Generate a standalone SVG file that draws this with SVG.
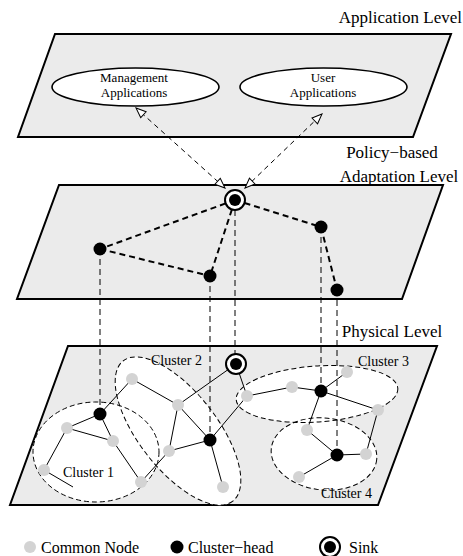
<svg xmlns="http://www.w3.org/2000/svg" width="463" height="556" viewBox="0 0 463 556">
<defs>
<style>
.plane{fill:#ebebeb;stroke:#000;stroke-width:2;stroke-linejoin:miter}
text{font-family:'Liberation Serif','Times New Roman',Times,serif;fill:#000}
.lvl{font-size:17px}
.t13{font-size:13px;text-anchor:middle}
.cl{font-size:14px}
.leg{font-size:16px}
.app{fill:#fff;stroke:#000;stroke-width:1.6}
.cfill{fill:#fff;stroke:none}
.cstroke{fill:none;stroke:#000;stroke-width:1;stroke-dasharray:5 3}
.thick{stroke:#000;stroke-width:2;stroke-dasharray:6 4;fill:none}
.vert{stroke:#000;stroke-width:1;stroke-dasharray:6 4;fill:none}
.edge{stroke:#000;stroke-width:1;fill:none}
.arr{stroke:#000;stroke-width:1;stroke-dasharray:5 4;fill:none;marker-start:url(#open);marker-end:url(#open)}
.g{fill:#d3d3d3}
.h{fill:#000}
.sinkring{fill:#fff;stroke:#000;stroke-width:2}
</style>
<marker id="open" viewBox="0 0 12 10" refX="11" refY="5" markerWidth="12" markerHeight="10" markerUnits="userSpaceOnUse" orient="auto-start-reverse">
<path d="M1,1 L11,5 L1,9 Z" fill="#fff" stroke="#000" stroke-width="1"/>
</marker>
</defs>
<rect width="463" height="556" fill="#fff"/>

<g id="application-level">
<polygon class="plane" points="55,34 451,34 413,137 18,137"/>
<text class="lvl" x="462" y="23" text-anchor="end">Application Level</text>
</g>
<g id="management-applications">
<ellipse class="app" cx="135.5" cy="87" rx="83.5" ry="19"/>
<text class="t13" x="134" y="82">Management</text>
<text class="t13" x="134" y="97">Applications</text>
</g>
<g id="user-applications">
<ellipse class="app" cx="323.5" cy="87" rx="83.5" ry="19"/>
<text class="t13" x="323" y="82">User</text>
<text class="t13" x="323" y="97">Applications</text>
</g>

<g id="adaptation-level">
<polygon class="plane" points="59,185 443,185 402,299 17,299"/>
<text class="lvl" x="392" y="158" text-anchor="middle">Policy−based</text>
<text class="lvl" x="399" y="182" text-anchor="middle">Adaptation Level</text>
</g>

<g id="physical-level">
<polygon class="plane" points="68,346 437,346 378,505 10,505"/>
<text class="lvl" x="392" y="337" text-anchor="middle">Physical Level</text>
</g>

<g id="clusters">
<ellipse class="cfill" cx="96" cy="452" rx="63" ry="50"/>
<ellipse class="cfill" cx="178" cy="431" rx="89" ry="39" transform="rotate(52 178 431)"/>
<ellipse class="cfill" cx="317" cy="394" rx="81" ry="28" transform="rotate(-4 317 394)"/>
<ellipse class="cfill" cx="324" cy="454" rx="53" ry="36" transform="rotate(6 324 454)"/>
<ellipse class="cstroke" cx="96" cy="452" rx="63" ry="50"/>
<ellipse class="cstroke" cx="178" cy="431" rx="89" ry="39" transform="rotate(52 178 431)"/>
<ellipse class="cstroke" cx="317" cy="394" rx="81" ry="28" transform="rotate(-4 317 394)"/>
<ellipse class="cstroke" cx="324" cy="454" rx="53" ry="36" transform="rotate(6 324 454)"/>
<text class="cl" x="63" y="477">Cluster 1</text>
<text class="cl" x="151" y="365">Cluster 2</text>
<text class="cl" x="358" y="366">Cluster 3</text>
<text class="cl" x="321" y="498">Cluster 4</text>
</g>

<g id="connectors">
<line class="arr" x1="225" y1="188" x2="136" y2="108"/>
<line class="arr" x1="245" y1="188" x2="322" y2="114"/>
<line class="thick" x1="235" y1="200" x2="100" y2="249"/>
<line class="thick" x1="100" y1="249" x2="210" y2="276"/>
<line class="thick" x1="235" y1="200" x2="210" y2="276"/>
<line class="thick" x1="235" y1="200" x2="321" y2="227"/>
<line class="thick" x1="321" y1="227" x2="337" y2="290"/>
<line class="vert" x1="100" y1="249" x2="100" y2="414"/>
<line class="vert" x1="210" y1="276" x2="210" y2="440"/>
<line class="vert" x1="235" y1="210" x2="235" y2="364"/>
<line class="vert" x1="321" y1="227" x2="321" y2="391"/>
<line class="vert" x1="337" y1="290" x2="337" y2="455"/>
<path class="edge" d="M100,414 L132,379 M100,414 L67,428 M100,414 L113,441 L141,482 L169,451 L178,405 L132,379 M67,428 L113,441 M67,428 L44,470 L73,487 M169,451 L210,440 L178,405 L236,364 M210,440 L223,487 M210,440 L247,396 L236,364 M247,396 L292,387 L321,391 L347,372 M321,391 L378,410 L366,454 L337,455 L307,430 L321,391 M337,455 L299,477"/>
</g>

<g id="sink-adapt"><circle class="sinkring" cx="235" cy="200" r="10"/><circle class="h" cx="235" cy="200" r="6"/></g>
<g id="head-a"><circle class="h" cx="100" cy="249" r="6.5"/></g>
<g id="head-b"><circle class="h" cx="210" cy="276" r="6.5"/></g>
<g id="head-c"><circle class="h" cx="321" cy="227" r="6.5"/></g>
<g id="head-d"><circle class="h" cx="337" cy="290" r="6.5"/></g>

<g id="sink-phys"><circle class="sinkring" cx="236" cy="364" r="10"/><circle class="h" cx="236" cy="364" r="6"/></g>
<g id="h1"><circle class="h" cx="100" cy="414" r="6.5"/></g>
<g id="h2"><circle class="h" cx="210" cy="440" r="6.5"/></g>
<g id="h3"><circle class="h" cx="321" cy="391" r="6.5"/></g>
<g id="h4"><circle class="h" cx="337" cy="455" r="6.5"/></g>
<g id="n1"><circle class="g" cx="132" cy="379" r="6"/></g>
<g id="n2"><circle class="g" cx="178" cy="405" r="6"/></g>
<g id="n3"><circle class="g" cx="67" cy="428" r="6"/></g>
<g id="n4"><circle class="g" cx="113" cy="441" r="6"/></g>
<g id="n5"><circle class="g" cx="44" cy="470" r="6"/></g>
<g id="n6"><circle class="g" cx="141" cy="482" r="6"/></g>
<g id="n7"><circle class="g" cx="169" cy="451" r="6"/></g>
<g id="n8"><circle class="g" cx="223" cy="487" r="6"/></g>
<g id="n9"><circle class="g" cx="247" cy="396" r="6"/></g>
<g id="n10"><circle class="g" cx="292" cy="387" r="6"/></g>
<g id="n11"><circle class="g" cx="347" cy="372" r="6"/></g>
<g id="n12"><circle class="g" cx="378" cy="410" r="6"/></g>
<g id="n13"><circle class="g" cx="307" cy="430" r="6"/></g>
<g id="n14"><circle class="g" cx="366" cy="454" r="6"/></g>
<g id="n15"><circle class="g" cx="299" cy="477" r="6"/></g>

<g id="legend">
<circle class="g" cx="30" cy="547" r="6"/>
<text class="leg" x="41" y="553">Common Node</text>
<circle class="h" cx="177" cy="547" r="6.5"/>
<text class="leg" x="188" y="553">Cluster−head</text>
<circle class="sinkring" cx="330" cy="547" r="10"/>
<circle class="h" cx="330" cy="547" r="6"/>
<text class="leg" x="349" y="553">Sink</text>
</g>
</svg>
